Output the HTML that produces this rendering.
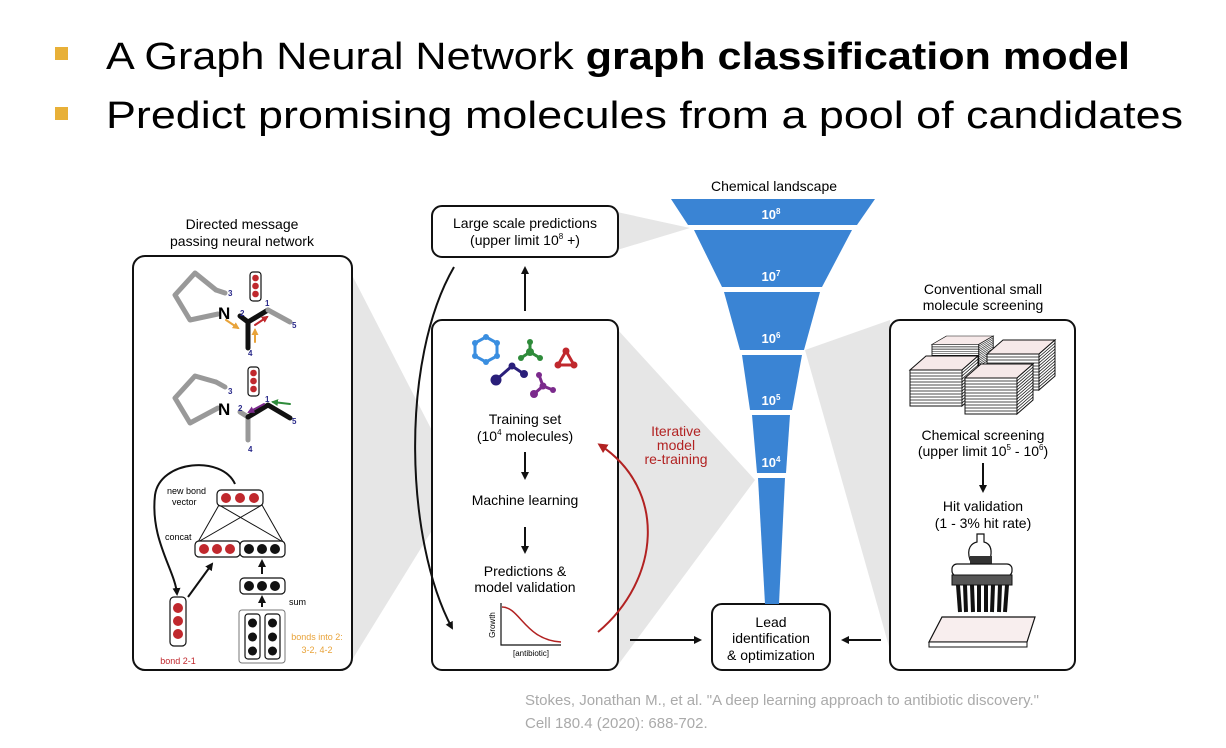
<!DOCTYPE html>
<html><head><meta charset="utf-8"><style>
html,body{margin:0;padding:0;background:#fff;}
svg{display:block;font-family:"Liberation Sans",sans-serif;}
</style></head><body>
<svg width="1226" height="748" viewBox="0 0 1226 748" xmlns="http://www.w3.org/2000/svg">
<defs>
<marker id="ab" markerWidth="8" markerHeight="8" refX="6" refY="4" orient="auto" markerUnits="userSpaceOnUse"><path d="M0,0 L8,4 L0,8 Z" fill="#111"/></marker>
<marker id="ar" markerWidth="10" markerHeight="10" refX="7" refY="5" orient="auto" markerUnits="userSpaceOnUse"><path d="M0,0 L10,5 L0,10 Z" fill="#b22222"/></marker>
<marker id="ao" markerWidth="7" markerHeight="7" refX="5" refY="3.5" orient="auto" markerUnits="userSpaceOnUse"><path d="M0,0 L7,3.5 L0,7 Z" fill="#e8a33a"/></marker>
<marker id="arr" markerWidth="7" markerHeight="7" refX="5" refY="3.5" orient="auto" markerUnits="userSpaceOnUse"><path d="M0,0 L7,3.5 L0,7 Z" fill="#c0282d"/></marker>
<marker id="ap" markerWidth="7" markerHeight="7" refX="5" refY="3.5" orient="auto" markerUnits="userSpaceOnUse"><path d="M0,0 L7,3.5 L0,7 Z" fill="#7b2a8c"/></marker>
<marker id="ag" markerWidth="7" markerHeight="7" refX="5" refY="3.5" orient="auto" markerUnits="userSpaceOnUse"><path d="M0,0 L7,3.5 L0,7 Z" fill="#2e8b3a"/></marker>
<g id="stk" stroke="#111" stroke-width="1">
<polygon points="0,14 52,14 68,0 16,0" fill="#f6e9e9"/>
<rect x="0" y="14" width="52" height="36" fill="#fff"/>
<polygon points="52,14 68,0 68,36 52,50" fill="#fff"/>
<path d="M0,17H52M0,20H52M0,23H52M0,26H52M0,29H52M0,32H52M0,35H52M0,38H52M0,41H52M0,44H52M0,47H52" fill="none" stroke-width="0.8"/>
<path d="M52,17L68,3M52,20L68,6M52,23L68,9M52,26L68,12M52,29L68,15M52,32L68,18M52,35L68,21M52,38L68,24M52,41L68,27M52,44L68,30M52,47L68,33" fill="none" stroke-width="0.8"/>
</g>
</defs>

<!-- title -->
<rect x="55" y="47" width="13" height="13" fill="#e8b038"/>
<rect x="55" y="107" width="13" height="13" fill="#e8b038"/>
<text x="106" y="69" font-size="38" fill="#000" textLength="1024" lengthAdjust="spacingAndGlyphs">A Graph Neural Network <tspan font-weight="bold">graph classification model</tspan></text>
<text x="106" y="128" font-size="38" fill="#000" textLength="1077" lengthAdjust="spacingAndGlyphs">Predict promising molecules from a pool of candidates</text>

<!-- gray shadows -->
<g fill="#e6e6e6">
<polygon points="352,275 460,485 352,660"/>
<polygon points="618,330 755,480 618,665"/>
<polygon points="617,212 690,228 617,250"/>
<polygon points="805,350 890,320 890,650"/>
</g>

<!-- left panel -->
<text x="242" y="229" font-size="14" text-anchor="middle">Directed message</text>
<text x="242" y="246" font-size="14" text-anchor="middle">passing neural network</text>
<rect x="133" y="256" width="219" height="414" rx="12" fill="#fff" stroke="#111" stroke-width="2"/>

<!-- molecule 1 -->
<g fill="none" stroke-linecap="round" stroke-linejoin="round">
<polyline points="216,290 195,273 175,295 190,320 218,314" stroke="#999" stroke-width="5"/>
<line x1="216" y1="290" x2="225" y2="293" stroke="#999" stroke-width="5"/>
<polyline points="248,348 248,322 268,310" stroke="#111" stroke-width="5"/>
<line x1="240" y1="316" x2="248" y2="322" stroke="#111" stroke-width="5"/>
<line x1="268" y1="310" x2="290" y2="322" stroke="#999" stroke-width="5"/>
<line x1="226" y1="320" x2="238" y2="328" stroke="#e8a33a" stroke-width="2" marker-end="url(#ao)"/>
<line x1="255" y1="342" x2="255" y2="330" stroke="#e8a33a" stroke-width="2" marker-end="url(#ao)"/>
<line x1="255" y1="325" x2="267" y2="317" stroke="#c0282d" stroke-width="2" marker-end="url(#arr)"/>
</g>
<text x="218" y="319" font-size="17" font-weight="bold">N</text>
<g font-size="8" fill="#2a2a8a" font-weight="bold">
<text x="228" y="296">3</text><text x="240" y="316">2</text><text x="265" y="306">1</text><text x="292" y="328">5</text><text x="248" y="356">4</text>
</g>
<rect x="250" y="272" width="11" height="29" rx="3" fill="#fff" stroke="#111" stroke-width="1.2"/>
<g fill="#c0282d"><circle cx="255.5" cy="278" r="3.3"/><circle cx="255.5" cy="286" r="3.3"/><circle cx="255.5" cy="294" r="3.3"/></g>

<!-- molecule 2 -->
<g fill="none" stroke-linecap="round" stroke-linejoin="round">
<polyline points="216,382 195,376 175,398 190,423 218,408" stroke="#999" stroke-width="5"/>
<line x1="216" y1="382" x2="225" y2="387" stroke="#999" stroke-width="5"/>
<polyline points="248,440 248,417" stroke="#999" stroke-width="5"/>
<line x1="240" y1="412" x2="248" y2="417" stroke="#999" stroke-width="5"/>
<polyline points="248,417 268,405 290,418" stroke="#111" stroke-width="5"/>
<line x1="290" y1="404" x2="273" y2="402" stroke="#2e8b3a" stroke-width="2" marker-end="url(#ag)"/>
<line x1="264" y1="404" x2="249" y2="412" stroke="#7b2a8c" stroke-width="2" marker-end="url(#ap)"/>
</g>
<text x="218" y="415" font-size="17" font-weight="bold">N</text>
<g font-size="8" fill="#2a2a8a" font-weight="bold">
<text x="228" y="394">3</text><text x="238" y="411">2</text><text x="265" y="402">1</text><text x="292" y="424">5</text><text x="248" y="452">4</text>
</g>
<rect x="248" y="367" width="11" height="29" rx="3" fill="#fff" stroke="#111" stroke-width="1.2"/>
<g fill="#c0282d"><circle cx="253.5" cy="373" r="3.3"/><circle cx="253.5" cy="381" r="3.3"/><circle cx="253.5" cy="389" r="3.3"/></g>

<!-- NN -->
<path d="M235,484 C222,455 160,460 155,495 C150,540 175,570 177,594" fill="none" stroke="#111" stroke-width="2" marker-end="url(#ab)"/>
<line x1="188" y1="597" x2="212" y2="564" stroke="#111" stroke-width="2" marker-end="url(#ab)"/>
<text x="167" y="494" font-size="9">new bond</text>
<text x="172" y="505" font-size="9">vector</text>
<text x="165" y="540" font-size="9">concat</text>
<g stroke="#111" stroke-width="1">
<line x1="219" y1="505" x2="198" y2="542"/><line x1="219" y1="505" x2="283" y2="542"/>
<line x1="262" y1="505" x2="198" y2="542"/><line x1="262" y1="505" x2="283" y2="542"/>
</g>
<rect x="217" y="490" width="46" height="16" rx="4" fill="#fff" stroke="#111" stroke-width="1.2"/>
<g fill="#c0282d"><circle cx="226" cy="498" r="5"/><circle cx="240" cy="498" r="5"/><circle cx="254" cy="498" r="5"/></g>
<rect x="195" y="541" width="45" height="16" rx="4" fill="#fff" stroke="#111" stroke-width="1.2"/>
<rect x="240" y="541" width="45" height="16" rx="4" fill="#fff" stroke="#111" stroke-width="1.2"/>
<g fill="#c0282d"><circle cx="204" cy="549" r="5"/><circle cx="217" cy="549" r="5"/><circle cx="230" cy="549" r="5"/></g>
<g fill="#111"><circle cx="249" cy="549" r="5"/><circle cx="262" cy="549" r="5"/><circle cx="275" cy="549" r="5"/></g>
<line x1="262" y1="574" x2="262" y2="561" stroke="#111" stroke-width="2" marker-end="url(#ab)"/>
<rect x="240" y="578" width="45" height="16" rx="4" fill="#fff" stroke="#111" stroke-width="1.2"/>
<g fill="#111"><circle cx="249" cy="586" r="5"/><circle cx="262" cy="586" r="5"/><circle cx="275" cy="586" r="5"/></g>
<line x1="262" y1="607" x2="262" y2="597" stroke="#111" stroke-width="2" marker-end="url(#ab)"/>
<text x="289" y="605" font-size="9">sum</text>
<rect x="239" y="610" width="46" height="53" rx="3" fill="#fff" stroke="#777" stroke-width="1"/>
<rect x="245" y="614" width="15" height="45" rx="3" fill="#fff" stroke="#111" stroke-width="1.2"/>
<rect x="265" y="614" width="15" height="45" rx="3" fill="#fff" stroke="#111" stroke-width="1.2"/>
<g fill="#111"><circle cx="252.5" cy="623" r="4.5"/><circle cx="252.5" cy="637" r="4.5"/><circle cx="252.5" cy="651" r="4.5"/><circle cx="272.5" cy="623" r="4.5"/><circle cx="272.5" cy="637" r="4.5"/><circle cx="272.5" cy="651" r="4.5"/></g>
<text x="317" y="640" font-size="9" fill="#e8a33a" text-anchor="middle">bonds into 2:</text>
<text x="317" y="653" font-size="9" fill="#e8a33a" text-anchor="middle">3-2, 4-2</text>
<rect x="170" y="597" width="16" height="49" rx="4" fill="#fff" stroke="#111" stroke-width="1.2"/>
<g fill="#c0282d"><circle cx="178" cy="608" r="5"/><circle cx="178" cy="621" r="5"/><circle cx="178" cy="634" r="5"/></g>
<text x="178" y="664" font-size="9" fill="#c0282d" text-anchor="middle">bond 2-1</text>

<!-- middle -->
<rect x="432" y="206" width="186" height="51" rx="10" fill="#fff" stroke="#111" stroke-width="2"/>
<text x="525" y="228" font-size="14" text-anchor="middle">Large scale predictions</text>
<text x="525" y="245" font-size="14" text-anchor="middle">(upper limit 10<tspan font-size="8" dy="-6">8</tspan><tspan dy="6"> +)</tspan></text>
<line x1="525" y1="311" x2="525" y2="268" stroke="#111" stroke-width="2" marker-end="url(#ab)"/>
<rect x="432" y="320" width="186" height="350" rx="10" fill="#fff" stroke="#111" stroke-width="2"/>
<path d="M454,267 C400,360 405,540 452,628" fill="none" stroke="#111" stroke-width="2" marker-end="url(#ab)"/>

<!-- molecules -->
<g fill="none" stroke-width="3">
<polygon points="486,337 497,343 497,356 486,362 475,356 475,343" stroke="#3a8ee0"/>
<path d="M530,342 L530,352 M521,358 L530,352 L540,358" stroke="#2e8b3a"/>
<polygon points="566,351 574,365 558,365" stroke="#c0282d"/>
<path d="M496,380 L512,366 L524,374" stroke="#2a1f7a"/>
<path d="M539,375 L543,386 L534,394 M543,386 L553,390" stroke="#7b2a8c"/>
</g>
<g fill="#3a8ee0"><circle cx="486" cy="337" r="3"/><circle cx="497" cy="343" r="3"/><circle cx="497" cy="356" r="3"/><circle cx="486" cy="362" r="3"/><circle cx="475" cy="356" r="3"/><circle cx="475" cy="343" r="3"/></g>
<g fill="#2e8b3a"><circle cx="530" cy="342" r="3"/><circle cx="530" cy="352" r="4"/><circle cx="521" cy="358" r="3"/><circle cx="540" cy="358" r="3"/></g>
<g fill="#c0282d"><circle cx="566" cy="351" r="3.5"/><circle cx="574" cy="365" r="3.5"/><circle cx="558" cy="365" r="3.5"/></g>
<g fill="#2a1f7a"><circle cx="496" cy="380" r="5.5"/><circle cx="512" cy="366" r="3.5"/><circle cx="524" cy="374" r="4"/></g>
<g fill="#7b2a8c"><circle cx="539" cy="375" r="3"/><circle cx="543" cy="386" r="3.5"/><circle cx="534" cy="394" r="4"/><circle cx="553" cy="390" r="3"/></g>

<text x="525" y="424" font-size="14" text-anchor="middle">Training set</text>
<text x="525" y="441" font-size="14" text-anchor="middle">(10<tspan font-size="8" dy="-6">4</tspan><tspan dy="6"> molecules)</tspan></text>
<line x1="525" y1="452" x2="525" y2="478" stroke="#111" stroke-width="2" marker-end="url(#ab)"/>
<text x="525" y="505" font-size="14" text-anchor="middle">Machine learning</text>
<line x1="525" y1="527" x2="525" y2="552" stroke="#111" stroke-width="2" marker-end="url(#ab)"/>
<text x="525" y="576" font-size="14" text-anchor="middle">Predictions &amp;</text>
<text x="525" y="592" font-size="14" text-anchor="middle">model validation</text>
<polyline points="501,603 501,645 561,645" fill="none" stroke="#111" stroke-width="1.2"/>
<path d="M502,607 C520,607 525,640 561,642" fill="none" stroke="#b22222" stroke-width="1.5"/>
<text x="495" y="625" font-size="8" text-anchor="middle" transform="rotate(-90 495 625)">Growth</text>
<text x="531" y="656" font-size="8" text-anchor="middle">[antibiotic]</text>

<path d="M598,632 C660,580 668,490 600,445" fill="none" stroke="#b22222" stroke-width="2" marker-end="url(#ar)"/>
<g font-size="14" fill="#b22222" text-anchor="middle">
<text x="676" y="436">Iterative</text><text x="676" y="450">model</text><text x="676" y="464">re-training</text>
</g>

<line x1="630" y1="640" x2="700" y2="640" stroke="#111" stroke-width="2" marker-end="url(#ab)"/>
<line x1="881" y1="640" x2="843" y2="640" stroke="#111" stroke-width="2" marker-end="url(#ab)"/>
<rect x="712" y="604" width="118" height="66" rx="10" fill="#fff" stroke="#111" stroke-width="2"/>
<g font-size="14" text-anchor="middle"><text x="771" y="627">Lead</text><text x="771" y="643">identification</text><text x="771" y="660">&amp; optimization</text></g>

<!-- funnel -->
<text x="774" y="191" font-size="14" text-anchor="middle">Chemical landscape</text>
<g fill="#3a84d4">
<polygon points="671,199 875,199 857,225 688,225"/>
<polygon points="694,230 852,230 822,287 722,287"/>
<polygon points="724,292 820,292 804,350 740,350"/>
<polygon points="742,355 802,355 792,410 750,410"/>
<polygon points="752,415 790,415 786,473 757,473"/>
<polygon points="758,478 785,478 779,604 765,604"/>
</g>
<g font-size="13" font-weight="bold" fill="#fff" text-anchor="middle">
<text x="771" y="219">10<tspan font-size="8" dy="-5">8</tspan></text>
<text x="771" y="281">10<tspan font-size="8" dy="-5">7</tspan></text>
<text x="771" y="343">10<tspan font-size="8" dy="-5">6</tspan></text>
<text x="771" y="405">10<tspan font-size="8" dy="-5">5</tspan></text>
<text x="771" y="467">10<tspan font-size="8" dy="-5">4</tspan></text>
</g>

<!-- right panel -->
<text x="983" y="294" font-size="14" text-anchor="middle">Conventional small</text>
<text x="983" y="310" font-size="14" text-anchor="middle">molecule screening</text>
<rect x="890" y="320" width="185" height="350" rx="10" fill="#fff" stroke="#111" stroke-width="2"/>
<use href="#stk" transform="translate(932,336) scale(0.9,0.6)"/>
<use href="#stk" transform="translate(987,340)"/>
<use href="#stk" transform="translate(910,356)"/>
<use href="#stk" transform="translate(965,364)"/>
<text x="983" y="440" font-size="14" text-anchor="middle">Chemical screening</text>
<text x="983" y="456" font-size="14" text-anchor="middle">(upper limit 10<tspan font-size="8" dy="-6">5</tspan><tspan dy="6"> - 10</tspan><tspan font-size="8" dy="-6">6</tspan><tspan dy="6">)</tspan></text>
<line x1="983" y1="463" x2="983" y2="491" stroke="#111" stroke-width="2" marker-end="url(#ab)"/>
<text x="983" y="511" font-size="14" text-anchor="middle">Hit validation</text>
<text x="983" y="528" font-size="14" text-anchor="middle">(1 - 3% hit rate)</text>
<!-- pipette -->
<path d="M970,560 C966,548 972,543 977,542 L977,534 L984,534 L984,542 C992,544 992,552 990,560 Z" fill="#fff" stroke="#111" stroke-width="1.2"/>
<rect x="970" y="556" width="22" height="10" fill="#333"/>
<rect x="952" y="564" width="60" height="12" rx="5" fill="#fff" stroke="#111" stroke-width="1.2"/>
<rect x="952" y="575" width="60" height="10" fill="#555" stroke="#111"/>
<g stroke="#111" stroke-width="4">
<line x1="958" y1="585" x2="960" y2="612"/><line x1="965" y1="585" x2="966" y2="612"/><line x1="972" y1="585" x2="973" y2="612"/><line x1="979" y1="585" x2="979" y2="612"/><line x1="986" y1="585" x2="986" y2="612"/><line x1="993" y1="585" x2="992" y2="612"/><line x1="1000" y1="585" x2="999" y2="612"/><line x1="1007" y1="585" x2="1005" y2="612"/>
</g>
<polygon points="942,617 1035,617 1027,642 929,642" fill="#f8eeee" stroke="#111" stroke-width="1.2"/>
<polygon points="929,642 1027,642 1027,647 929,647" fill="#fff" stroke="#111" stroke-width="1"/>

<!-- citation -->
<text x="525" y="705" font-size="15" fill="#aaaaaa">Stokes, Jonathan M., et al. "A deep learning approach to antibiotic discovery."</text>
<text x="525" y="728" font-size="15" fill="#aaaaaa">Cell 180.4 (2020): 688-702.</text>
</svg>
</body></html>
